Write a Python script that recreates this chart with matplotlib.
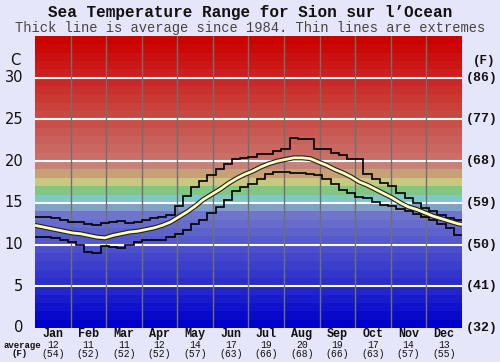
import matplotlib
matplotlib.use("Agg")
import matplotlib.pyplot as plt
import numpy as np

months = ["Jan", "Feb", "Mar", "Apr", "May", "Jun", "Jul", "Aug", "Sep", "Oct", "Nov", "Dec"]
avg_c = [12, 11, 11, 12, 14, 17, 19, 20, 19, 17, 14, 13]
avg_f = [54, 52, 52, 52, 57, 63, 66, 68, 66, 63, 57, 55]

c_ticks = [0, 5, 10, 15, 20, 25, 30]
f_labels = ["(32)", "(41)", "(50)", "(59)", "(68)", "(77)", "(86)"]

# weekly values (52 weeks)
t_max = [13.3, 13.3, 13.2, 13.0, 12.7, 12.7, 12.5, 12.4, 12.6, 12.7, 12.8, 12.6, 12.7,
         12.9, 13.2, 13.3, 13.6, 14.6, 15.8, 16.9, 17.6, 18.3, 19.0, 19.6, 20.2, 20.4,
         20.5, 20.8, 20.8, 21.2, 21.4, 22.8, 22.7, 22.6, 21.5, 21.4, 21.0, 20.7, 20.3,
         20.2, 18.4, 17.8, 17.4, 17.0, 16.2, 15.6, 15.0, 14.4, 14.0, 13.6, 13.2, 13.0]
t_min = [10.9, 10.9, 10.8, 10.6, 10.3, 10.0, 9.1, 9.0, 9.8, 9.7, 9.6, 10.0, 10.3,
         10.5, 10.5, 10.6, 10.9, 11.3, 11.8, 12.5, 13.0, 13.8, 14.5, 15.4, 16.4, 16.9,
         17.3, 17.9, 18.4, 18.7, 18.7, 18.6, 18.6, 18.4, 18.3, 17.8, 17.3, 16.6, 16.2,
         15.7, 15.6, 15.1, 14.8, 14.6, 14.3, 14.0, 13.7, 13.3, 13.0, 12.5, 12.0, 11.2]
t_avg = [12.2, 12.0, 11.8, 11.6, 11.4, 11.3, 11.1, 10.9, 10.8, 11.1, 11.3, 11.5, 11.6,
         11.8, 12.0, 12.3, 12.7, 13.3, 13.9, 14.6, 15.4, 16.0, 16.6, 17.3, 17.9, 18.4,
         18.8, 19.3, 19.7, 20.0, 20.2, 20.4, 20.4, 20.3, 19.9, 19.5, 19.0, 18.6, 18.1,
         17.5, 17.1, 16.6, 16.1, 15.6, 15.0, 14.5, 14.2, 13.8, 13.4, 13.1, 12.8, 12.5]

fig = plt.figure(figsize=(5.0, 3.62), dpi=100)
fig.patch.set_facecolor("#e6e6fa")
ax = fig.add_axes([35/500, 34/362, 427/500, 292/362])
ax.set_xlim(0, 12)
ax.set_ylim(0, 35)

# background temperature bands
def band_color(t):
    if t < 14:
        v = t * 8.5
        return (v/255, (v*1.05)/255, 204/255)
    special = {14: "#80a0c8", 15: "#80c8c8", 16: "#80c880", 17: "#c8c880",
               18: "#c8a078", 19: "#c88078"}
    if t in special:
        return special[t]
    f = (t - 20) / 14.0
    r = 200 + 4*f
    g = 112 * (1 - f)
    b = 104 * (1 - f)
    return (r/255, g/255, b/255)

for t in range(35):
    ax.axhspan(t, t+1, color=band_color(t), lw=0, zorder=0)

for y in c_ticks[1:]:
    ax.axhline(y, color="white", lw=1.5, zorder=1)
for m in range(1, 12):
    ax.axvline(m, color="#707070", lw=1, zorder=1)

wx = np.arange(53) * 12 / 52
ax.stairs(t_max, wx, color="black", lw=1.2, zorder=3, baseline=None)
ax.stairs(t_min, wx, color="black", lw=1.2, zorder=3, baseline=None)
cx = (np.arange(52) + 0.5) * 12 / 52
cx_full = np.concatenate([[0], cx, [12]])
ta = np.concatenate([[t_avg[0] + 0.1], t_avg, [t_avg[-1] - 0.1]])
ax.plot(cx_full, ta, color="#202020", lw=3.6, zorder=4, solid_capstyle="butt")
ax.plot(cx_full, ta, color="#ffffc0", lw=2.0, zorder=5, solid_capstyle="butt")

ax.set_xticks([])
ax.set_yticks([])
for s in ax.spines.values():
    s.set_visible(False)

# left labels
for v in c_ticks:
    ax.text(-0.33, v, str(v), ha="right", va="center", fontsize=10.5,
            family="DejaVu Sans", color="#111111")
ax.text(-0.4, 32.1, "C", ha="right", va="center", fontsize=10.5,
        family="DejaVu Sans", color="#111111")
# right labels
for v, lab in zip(c_ticks, f_labels):
    ax.text(12.1, v, lab, ha="left", va="center", fontsize=9.5,
            family="Liberation Mono", weight="bold", color="#111111")
ax.text(12.3, 32.0, "(F)", ha="left", va="center", fontsize=9,
        family="Liberation Mono", weight="bold", color="#111111")

# month labels
for i, m in enumerate(months):
    x = i + 0.5
    ax.text(x, -0.75, m, ha="center", va="center", fontsize=8.5,
            family="Liberation Mono", weight="bold", color="#111111")
    ax.text(x, -2.05, str(avg_c[i]), ha="center", va="center", fontsize=7,
            family="Liberation Mono", color="#111111")
    ax.text(x, -3.15, "(%d)" % avg_f[i], ha="center", va="center", fontsize=7,
            family="Liberation Mono", color="#111111")
fig.text(22/500, 1 - 345/362, "average", ha="center", va="center", fontsize=6.5,
         family="Liberation Mono", weight="bold", color="#111111")
fig.text(20/500, 1 - 354/362, "(F)", ha="center", va="center", fontsize=6.5,
         family="Liberation Mono", weight="bold", color="#111111")

fig.text(0.5, 1 - 13/362, "Sea Temperature Range for Sion sur l\u2019Ocean", ha="center",
         va="center", fontsize=11.5, family="Liberation Mono", weight="bold", color="#111111")
fig.text(0.5, 1 - 28/362, "Thick line is average since 1984. Thin lines are extremes",
         ha="center", va="center", fontsize=9.9, family="Liberation Mono", color="#444444")

fig.savefig("out.png", dpi=100, facecolor=fig.get_facecolor())
